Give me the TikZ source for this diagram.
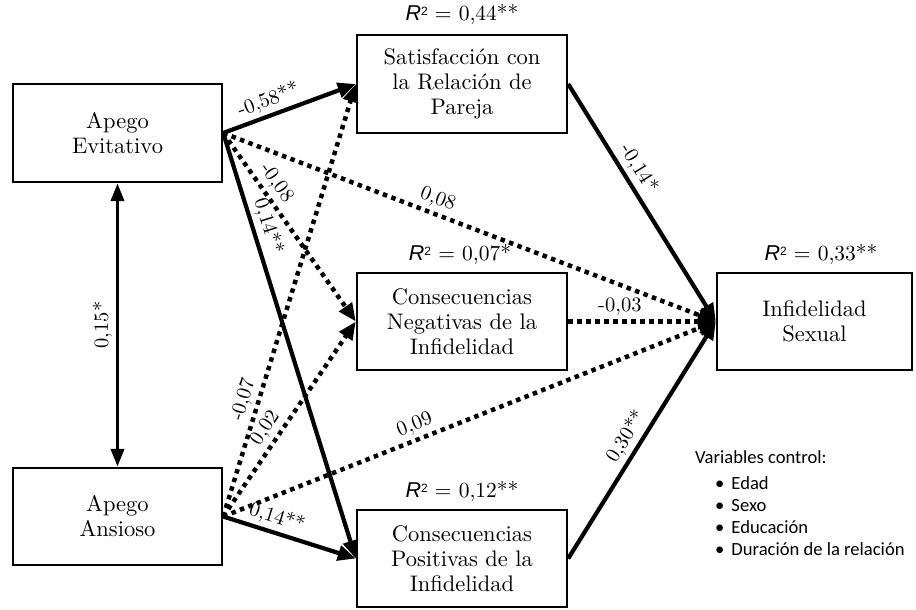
\documentclass[tikz,border=0pt]{standalone}
\usepackage{fontspec}
\setmainfont{lmroman10-regular.otf}[BoldFont=lmroman10-bold.otf, ItalicFont=lmroman10-italic.otf]
\newfontfamily\calib{Carlito}
\newfontfamily\arialf{Liberation Sans}
\usetikzlibrary{arrows.meta}
\newcommand\rsq[1]{{\arialf\itshape R}\raisebox{0.55ex}{\arialf\fontsize{12}{12}\selectfont 2} = #1}
\begin{document}
\begin{tikzpicture}[x=1pt,y=-1pt,
  box/.style={draw, line width=2.4pt, align=center, inner sep=0pt,
    font=\fontsize{22.5}{25}\selectfont},
  solidarr/.style={line width=4.2pt, -{Triangle[length=18pt,width=15pt]}},
  dotarr/.style={line width=4.5pt, dash pattern=on 4.5pt off 4.5pt, -{Triangle[length=18pt,width=15pt]}},
  lab/.style={font=\fontsize{20.5}{22}\selectfont, sloped, above, inner sep=3.5pt},
  rlab/.style={font=\fontsize{21.5}{23}\selectfont, inner sep=0pt}]
\useasboundingbox (0,0) rectangle (916,610);
% boxes
\node[box, minimum width=209pt, minimum height=98pt] (ev) at (117.5,133) {Apego\\Evitativo};
\node[box, minimum width=209pt, minimum height=97pt] (an) at (117.5,516.5) {Apego\\Ansioso};
\node[box, minimum width=210pt, minimum height=98pt] (sat) at (462,84) {Satisfacción con\\la Relación de\\Pareja};
\node[box, minimum width=210pt, minimum height=97pt] (neg) at (462,321.5) {Consecuencias\\Negativas de la\\Infidelidad};
\node[box, minimum width=210pt, minimum height=97pt] (pos) at (462,558.5) {Consecuencias\\Positivas de la\\Infidelidad};
\node[box, minimum width=195pt, minimum height=97pt] (inf) at (814.5,321.5) {Infidelidad\\Sexual};
% R2 labels
\node[rlab] (r1) at (462,15) {\rsq{0,44**}};
\node[rlab] (r2) at (460,255) {\rsq{0,07*}};
\node[rlab] (r3) at (462,492) {\rsq{0,12**}};
\node[rlab] (r4) at (821,255) {\rsq{0,33**}};
% paths
\draw[solidarr] (ev.east) -- node[lab, pos=.38] {-0,58**} (sat.west);
\draw[dotarr] (ev.east) -- node[lab, pos=.425] {0,08} (inf.west);
\draw[dotarr] (ev.east) -- node[lab, pos=.31] {-0,08} (neg.west);
\draw[solidarr] (ev.east) -- node[lab, pos=.23] {0,14**} (pos.west);
\draw[dotarr] (an.east) -- node[lab, pos=.26] {-0,07} (sat.west);
\draw[dotarr] (an.east) -- node[lab, pos=.41] {0,02} (neg.west);
\draw[dotarr] (an.east) -- node[lab, pos=.4] {0,09} (inf.west);
\draw[solidarr] (an.east) -- node[lab, pos=.37] {0,14**} (pos.west);
\draw[solidarr] (sat.east) -- node[lab, pos=.39] {-0,14*} (inf.west);
\draw[dotarr] (neg.east) -- node[lab, pos=.35] {-0,03} (inf.west);
\draw[solidarr] (pos.east) -- node[lab, pos=.48] {0,30**} (inf.west);
\draw[line width=3.8pt, {Triangle[length=18pt,width=13pt]}-{Triangle[length=18pt,width=13pt]}]
  (an.north) -- node[lab, midway] {0,15*} (ev.south);
% control variables
\node[anchor=north west, align=left, inner sep=0pt, font=\calib\fontsize{18.6}{22}\selectfont] (ctrl) at (695,450)
  {Variables control:\\[4pt]
   \hspace*{20pt}•\hspace*{7pt}Edad\\
   \hspace*{20pt}•\hspace*{7pt}Sexo\\
   \hspace*{20pt}•\hspace*{7pt}Educación\\
   \hspace*{20pt}•\hspace*{7pt}Duración de la relación};
\end{tikzpicture}
\end{document}
